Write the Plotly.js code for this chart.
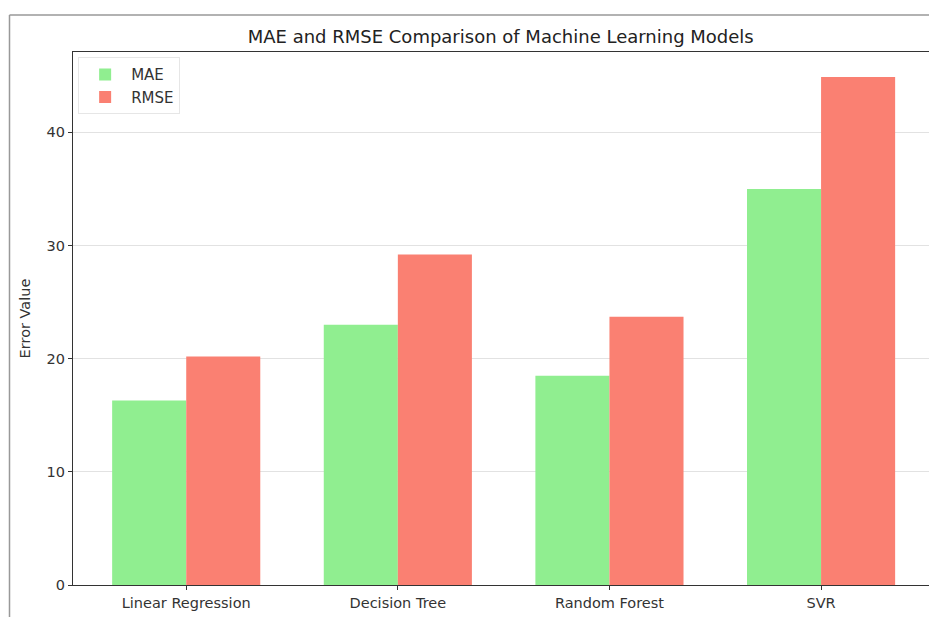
<!DOCTYPE html>
<html>
<head>
<meta charset="utf-8">
<script src="https://cdn.plot.ly/plotly-3.0.1.min.js"></script>
<style>html,body{margin:0;padding:0;background:#fff;}#chart{width:929px;height:617px;}</style>
</head>
<body>
<div id="chart"></div>
<script>
const models = ["Linear Regression", "Decision Tree", "Random Forest", "SVR"];
const maeValues = [16.3, 23.0, 18.5, 35.0];
const rmseValues = [20.2, 29.2, 23.7, 44.9];
const seriesNames = ["MAE", "RMSE"];
const yTicks = [0, 10, 20, 30, 40];

const xIdx = models.map((_, i) => i);
const traces = [
  {type: "bar", name: seriesNames[0], x: xIdx, y: maeValues, marker: {color: "#90EE90"}, offsetgroup: "a"},
  {type: "bar", name: seriesNames[1], x: xIdx, y: rmseValues, marker: {color: "#FA8072"}, offsetgroup: "b"}
];

const layout = {
  width: 929, height: 617,
  margin: {l: 73, r: 0, t: 52, b: 32},
  paper_bgcolor: "#fff", plot_bgcolor: "#fff",
  font: {family: "DejaVu Sans, sans-serif", color: "#333", size: 14},
  title: {text: "MAE and RMSE Comparison of Machine Learning Models", x: 0.539, xanchor: "center", y: 0.94, yanchor: "middle", font: {size: 18, color: "#222"}},
  barmode: "group", bargap: 0.3, bargroupgap: 0,
  xaxis: {
    range: [-0.535, 3.51], tickvals: xIdx, ticktext: models,
    showline: true, linecolor: "#333", linewidth: 1.2, mirror: true,
    ticks: "outside", ticklen: 4, tickcolor: "#333", showgrid: false, zeroline: false,
    tickfont: {size: 14.5, color: "#333"}
  },
  yaxis: {
    range: [0, 47.1], tickvals: yTicks,
    showline: true, linecolor: "#333", linewidth: 1.2,
    ticks: "outside", ticklen: 4, tickcolor: "#333",
    showgrid: true, gridcolor: "#e2e2e2", gridwidth: 1, zeroline: false,
    tickfont: {size: 14.5, color: "#333"},
    title: {text: "Error Value", font: {size: 14.5, color: "#333"}, standoff: 12}
  },
  legend: {
    x: 0.006, y: 0.99, xanchor: "left", yanchor: "top",
    bgcolor: "rgba(255,255,255,0.8)", bordercolor: "#e6e6e6", borderwidth: 1,
    font: {size: 15, color: "#333"}, itemwidth: 42, tracegroupgap: 6
  },
  shapes: [
    {type: "line", xref: "paper", yref: "paper", x0: (9.5 - 73) / 856, x1: (9.5 - 73) / 856, y0: -0.06, y1: (585 - 15) / 533, line: {color: "#999", width: 1.5}},
    {type: "line", xref: "paper", yref: "paper", x0: (9.5 - 73) / 856, x1: 1.01, y0: (585 - 15) / 533, y1: (585 - 15) / 533, line: {color: "#999", width: 1.5}}
  ],
  showlegend: true
};

Plotly.newPlot("chart", traces, layout, {displayModeBar: false, staticPlot: true});
</script>
</body>
</html>
